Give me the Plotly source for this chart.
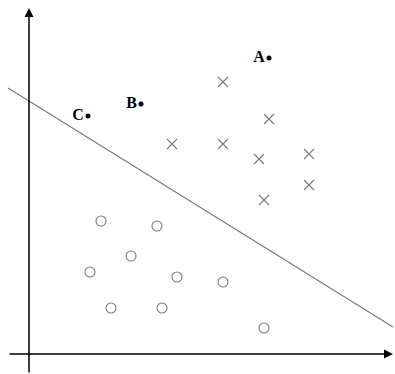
import plotly.graph_objects as go

# Positive class (crosses)
cross_x = [19.4, 24.0, 14.3, 19.4, 23.0, 28.0, 28.0, 23.5]
cross_y = [27.2, 23.5, 21.0, 21.0, 19.5, 20.0, 16.9, 15.4]

# Negative class (circles)
circle_x = [7.2, 12.8, 10.2, 6.1, 14.8, 8.2, 13.3, 19.4, 23.5]
circle_y = [13.3, 12.8, 9.8, 8.2, 7.7, 4.6, 4.6, 7.2, 2.6]

# Labelled points
point_labels = ["A", "B", "C"]
point_x = [24.0, 11.2, 5.9]
point_y = [29.6, 25.0, 23.8]

# Separating line end points
line_x = [-2.1, 36.4]
line_y = [26.6, 2.7]

GRAY = "#7a7a7a"

fig = go.Figure()

fig.add_trace(go.Scatter(
    x=line_x, y=line_y, mode="lines",
    line=dict(color=GRAY, width=1.2), showlegend=False, hoverinfo="skip",
))
fig.add_trace(go.Scatter(
    x=cross_x, y=cross_y, mode="markers",
    marker=dict(symbol="x-thin-open", size=10, color=GRAY, line=dict(color=GRAY, width=1.1)),
    showlegend=False,
))
fig.add_trace(go.Scatter(
    x=circle_x, y=circle_y, mode="markers",
    marker=dict(symbol="circle-open", size=10, color=GRAY, line=dict(color=GRAY, width=1.1)),
    showlegend=False,
))
fig.add_trace(go.Scatter(
    x=point_x, y=point_y, mode="markers+text",
    marker=dict(color="black", size=5),
    text=[f"<b>{t}</b>" for t in point_labels],
    textposition="middle left",
    textfont=dict(family="Liberation Serif", size=16, color="black"),
    showlegend=False,
))

# axes with arrows
fig.add_annotation(x=36.4, y=0, ax=-2.1, ay=0, xref="x", yref="y", axref="x", ayref="y",
                   text="", showarrow=True, arrowhead=2, arrowsize=1.2,
                   arrowwidth=1.5, arrowcolor="black")
fig.add_annotation(x=0, y=34.6, ax=0, ay=-2.0, xref="x", yref="y", axref="x", ayref="y",
                   text="", showarrow=True, arrowhead=2, arrowsize=1.2,
                   arrowwidth=1.5, arrowcolor="black")

fig.update_xaxes(range=[-2.9, 36.6], visible=False, showgrid=False, zeroline=False)
fig.update_yaxes(range=[-2.0, 35.4], visible=False, showgrid=False, zeroline=False)
fig.update_layout(
    width=395, height=374,
    margin=dict(l=0, r=0, t=0, b=0),
    plot_bgcolor="white", paper_bgcolor="white",
)

fig.write_html(
    "out.html",
    config={"displayModeBar": False},
    post_script="document.body.style.margin='0';document.body.style.overflow='hidden';",
)
